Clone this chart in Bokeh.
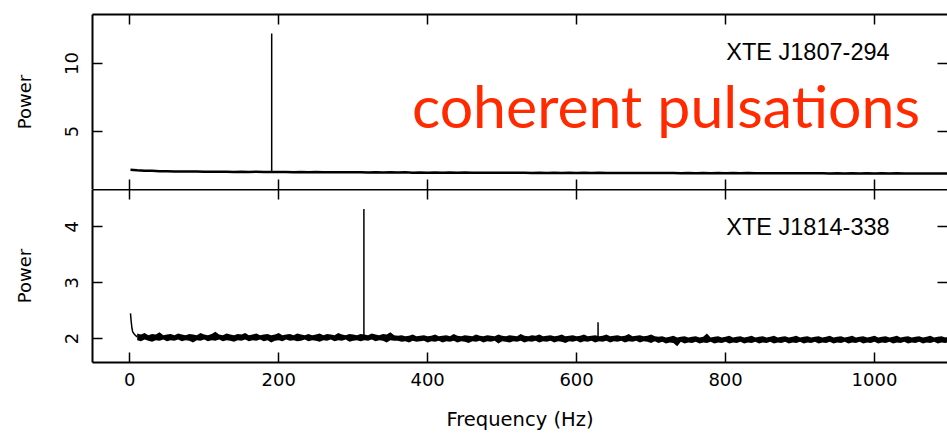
from bokeh.plotting import figure
from bokeh.models import Range1d, FixedTicker, LinearAxis, Label, CustomJSTickFormatter
from bokeh.layouts import column
from bokeh.embed import file_html
from bokeh.resources import INLINE

# ---------------- data ----------------
x_ticks = [0, 200, 400, 600, 800, 1000]
top_y_ticks = [5, 10]
bot_y_ticks = [2, 3, 4]

top_name = "XTE J1807-294"
bot_name = "XTE J1814-338"
headline = "coherent pulsations"

# XTE J1807-294 power spectrum (10 Hz sampling of the read-off trace)
top_freq = [1, 5] + list(range(10, 1101, 10))
top_power = [2.20, 2.18,
    2.15, 2.12, 2.11, 2.09, 2.08, 2.07, 2.07, 2.06, 2.06, 2.05,
    2.05, 2.04, 2.05, 2.03, 2.04, 2.03, 2.04, 2.02, 2.03, 2.02,
    2.03, 2.01, 2.02, 2.01, 2.02, 2.00, 2.01, 2.00, 2.01, 2.00,
    2.01, 1.99, 2.00, 1.99, 2.00, 1.99, 2.00, 1.98, 1.99, 1.98,
    1.99, 1.98, 1.99, 1.98, 1.99, 1.97, 1.98, 1.97, 1.98, 1.97,
    1.98, 1.97, 1.98, 1.96, 1.97, 1.96, 1.97, 1.96, 1.97, 1.96,
    1.97, 1.96, 1.97, 1.95, 1.96, 1.95, 1.96, 1.95, 1.96, 1.95,
    1.96, 1.95, 1.96, 1.94, 1.95, 1.94, 1.95, 1.94, 1.95, 1.94,
    1.95, 1.94, 1.95, 1.93, 1.94, 1.93, 1.94, 1.93, 1.94, 1.93,
    1.94, 1.93, 1.94, 1.92, 1.93, 1.92, 1.93, 1.92, 1.93, 1.92,
    1.93, 1.92, 1.93, 1.91, 1.92, 1.91, 1.92, 1.91, 1.92, 1.91]

top_spike_freq = [190.6]
top_spike_base = [2.02]
top_spike_peak = [12.2]

# XTE J1814-338: low-frequency rise, then the noise band (upper / lower envelope)
bot_rise_freq = [1, 2, 3, 4, 6, 8, 10]
bot_rise_power = [2.45, 2.30, 2.18, 2.12, 2.08, 2.05, 2.03]

bot_band_freq = list(range(10, 1101, 5))
bot_band_upper = [
    2.09, 2.07, 2.10, 2.06, 2.08, 2.07, 2.11, 2.06, 2.07, 2.08,
    2.06, 2.09, 2.07, 2.06, 2.08, 2.07, 2.06, 2.10, 2.07, 2.06,
    2.08, 2.12, 2.07, 2.06, 2.09, 2.07, 2.06, 2.08, 2.07, 2.10,
    2.06, 2.07, 2.09, 2.06, 2.07, 2.08, 2.06, 2.07, 2.10, 2.06,
    2.07, 2.08, 2.06, 2.09, 2.07, 2.06, 2.08, 2.06, 2.07, 2.09,
    2.06, 2.08, 2.07, 2.06, 2.10, 2.07, 2.06, 2.08, 2.07, 2.06,
    2.08, 2.07, 2.06, 2.09, 2.07, 2.06, 2.08, 2.07, 2.11, 2.06,
    2.05, 2.06, 2.04, 2.05, 2.07, 2.04, 2.05, 2.06, 2.04, 2.05,
    2.07, 2.04, 2.05, 2.06, 2.04, 2.08, 2.05, 2.04, 2.06, 2.05,
    2.04, 2.07, 2.05, 2.04, 2.06, 2.05, 2.04, 2.07, 2.05, 2.04,
    2.06, 2.05, 2.04, 2.08, 2.05, 2.04, 2.06, 2.05, 2.07, 2.04,
    2.05, 2.06, 2.04, 2.05, 2.07, 2.04, 2.05, 2.06, 2.04, 2.05,
    2.07, 2.04, 2.05, 2.06, 2.04, 2.05, 2.07, 2.04, 2.05, 2.06,
    2.04, 2.05, 2.08, 2.04, 2.05, 2.06, 2.04, 2.05, 2.07, 2.04,
    2.03, 2.04, 2.02, 2.03, 2.05, 2.02, 2.03, 2.04, 2.02, 2.03,
    2.04, 2.02, 2.03, 2.09, 2.02, 2.03, 2.04, 2.02, 2.03, 2.05,
    2.02, 2.03, 2.04, 2.02, 2.03, 2.05, 2.02, 2.03, 2.04, 2.02,
    2.03, 2.05, 2.02, 2.03, 2.04, 2.02, 2.03, 2.05, 2.02, 2.03,
    2.04, 2.02, 2.03, 2.04, 2.02, 2.03, 2.05, 2.02, 2.03, 2.04,
    2.02, 2.03, 2.05, 2.02, 2.03, 2.04, 2.02, 2.03, 2.05, 2.02,
    2.03, 2.04, 2.02, 2.03, 2.05, 2.02, 2.03, 2.04, 2.02, 2.03,
    2.04, 2.02, 2.03, 2.05, 2.02, 2.03, 2.04, 2.02, 2.03]
bot_band_lower = [
    1.97, 1.95, 1.98, 1.96, 1.94, 1.97, 1.96, 1.98, 1.95, 1.97,
    1.96, 1.98, 1.95, 1.97, 1.96, 1.93, 1.97, 1.96, 1.98, 1.95,
    1.97, 1.96, 1.98, 1.95, 1.97, 1.96, 1.94, 1.97, 1.96, 1.98,
    1.95, 1.97, 1.96, 1.98, 1.95, 1.97, 1.93, 1.96, 1.97, 1.95,
    1.98, 1.96, 1.97, 1.95, 1.96, 1.98, 1.95, 1.97, 1.96, 1.94,
    1.97, 1.96, 1.98, 1.95, 1.97, 1.96, 1.98, 1.94, 1.96, 1.97,
    1.95, 1.97, 1.96, 1.98, 1.95, 1.97, 1.96, 1.93, 1.97, 1.96,
    1.96, 1.94, 1.95, 1.93, 1.96, 1.94, 1.95, 1.96, 1.93, 1.95,
    1.94, 1.96, 1.93, 1.95, 1.94, 1.96, 1.93, 1.95, 1.94, 1.92,
    1.95, 1.94, 1.96, 1.93, 1.95, 1.94, 1.96, 1.91, 1.95, 1.94,
    1.93, 1.95, 1.94, 1.96, 1.93, 1.95, 1.94, 1.96, 1.93, 1.95,
    1.94, 1.96, 1.93, 1.95, 1.94, 1.92, 1.95, 1.94, 1.96, 1.93,
    1.95, 1.94, 1.96, 1.93, 1.95, 1.94, 1.96, 1.93, 1.95, 1.94,
    1.96, 1.93, 1.95, 1.94, 1.96, 1.93, 1.95, 1.94, 1.92, 1.95,
    1.92, 1.94, 1.91, 1.93, 1.92, 1.86, 1.94, 1.91, 1.93, 1.92,
    1.94, 1.91, 1.93, 1.92, 1.94, 1.91, 1.93, 1.92, 1.94, 1.91,
    1.93, 1.92, 1.94, 1.91, 1.93, 1.92, 1.94, 1.91, 1.93, 1.92,
    1.94, 1.91, 1.93, 1.92, 1.94, 1.91, 1.93, 1.92, 1.94, 1.91,
    1.93, 1.92, 1.94, 1.91, 1.93, 1.92, 1.94, 1.91, 1.93, 1.92,
    1.94, 1.91, 1.93, 1.92, 1.94, 1.91, 1.93, 1.92, 1.94, 1.91,
    1.93, 1.92, 1.94, 1.91, 1.93, 1.92, 1.94, 1.91, 1.93, 1.92,
    1.94, 1.91, 1.93, 1.92, 1.94, 1.91, 1.93, 1.92, 1.94]

bot_spike_freq = [314.4, 628.8]
bot_spike_base = [2.00, 2.00]
bot_spike_peak = [4.32, 2.29]

# ---------------- styling ----------------
TICK_FONT = "DejaVu Sans"
LABEL_FONT = "Liberation Sans"
W = 947

x_range = Range1d(-50, 1098)


def inner_ticks(ax, line=True):
    ax.major_tick_in = 10
    ax.major_tick_out = 0
    ax.minor_tick_line_color = None
    ax.major_tick_line_color = "black"
    ax.major_tick_line_width = 1.5
    ax.major_label_text_color = "black"
    ax.axis_label_text_color = "black"
    if line:
        ax.axis_line_color = "black"
        ax.axis_line_width = 2
    else:
        ax.axis_line_color = None


def hidden_axis(ticks, line):
    ax = LinearAxis(ticker=FixedTicker(ticks=ticks),
                    formatter=CustomJSTickFormatter(code="return ''"))
    inner_ticks(ax, line)
    ax.major_label_standoff = 0
    return ax


def base_fig(height, y_range, y_ticks, border_top, border_bottom, show_x, top_line):
    p = figure(width=W, height=height, x_range=x_range, y_range=y_range,
               output_backend="svg", toolbar_location=None,
               x_axis_location=None, y_axis_location=None,
               min_border_left=92, min_border_right=0,
               min_border_top=border_top, min_border_bottom=border_bottom)
    p.grid.visible = False
    p.outline_line_color = None
    p.background_fill_color = "white"
    p.border_fill_color = "white"

    yl = LinearAxis(ticker=FixedTicker(ticks=y_ticks))
    inner_ticks(yl)
    yl.axis_label = "Power"
    yl.axis_label_text_font = TICK_FONT
    yl.axis_label_text_font_size = "18px"
    yl.axis_label_text_font_style = "normal"
    yl.axis_label_standoff = 28
    yl.major_label_text_font = TICK_FONT
    yl.major_label_text_font_size = "18px"
    yl.major_label_orientation = "vertical"
    yl.major_label_standoff = 14
    p.add_layout(yl, "left")

    p.add_layout(hidden_axis(y_ticks, False), "right")
    p.add_layout(hidden_axis(x_ticks, top_line), "above")

    if show_x:
        xb = LinearAxis(ticker=FixedTicker(ticks=x_ticks))
        inner_ticks(xb)
        xb.axis_label = "Frequency (Hz)"
        xb.axis_label_text_font = TICK_FONT
        xb.axis_label_text_font_size = "19.5px"
        xb.axis_label_text_font_style = "normal"
        xb.axis_label_standoff = 19
        xb.major_label_text_font = TICK_FONT
        xb.major_label_text_font_size = "18px"
        xb.major_label_standoff = 10
        p.add_layout(xb, "below")
    else:
        p.add_layout(hidden_axis(x_ticks, False), "below")
    return p


p1 = base_fig(189, Range1d(0.74, 13.6), top_y_ticks, 14, 0, False, True)
p1.line(top_freq, top_power, line_color="black", line_width=2.5)
p1.segment(x0=top_spike_freq, y0=top_spike_base, x1=top_spike_freq,
           y1=top_spike_peak, line_color="black", line_width=1.5)
p1.add_layout(Label(x=801, y=10.84, text=top_name, text_font=LABEL_FONT,
                    text_font_size="23.5px", text_baseline="middle",
                    text_align="left", text_color="black"))
p1.add_layout(Label(x=379, y=6.9, text=headline, text_font="Lato",
                    text_font_size="59px", text_baseline="middle",
                    text_align="left", text_color="#ff2a00"))

p2 = base_fig(244, Range1d(1.57, 4.67), bot_y_ticks, 0, 70, True, True)
p2.varea(x=bot_band_freq, y1=bot_band_lower, y2=bot_band_upper, fill_color="black")
p2.line(bot_rise_freq, bot_rise_power, line_color="black", line_width=1.5)
p2.segment(x0=bot_spike_freq, y0=bot_spike_base, x1=bot_spike_freq,
           y1=bot_spike_peak, line_color="black", line_width=1.5)
p2.add_layout(Label(x=801, y=4.0, text=bot_name, text_font=LABEL_FONT,
                    text_font_size="23.5px", text_baseline="middle",
                    text_align="left", text_color="black"))

layout = column(p1, p2, spacing=0)
open("out.html", "w").write(file_html(layout, INLINE))
